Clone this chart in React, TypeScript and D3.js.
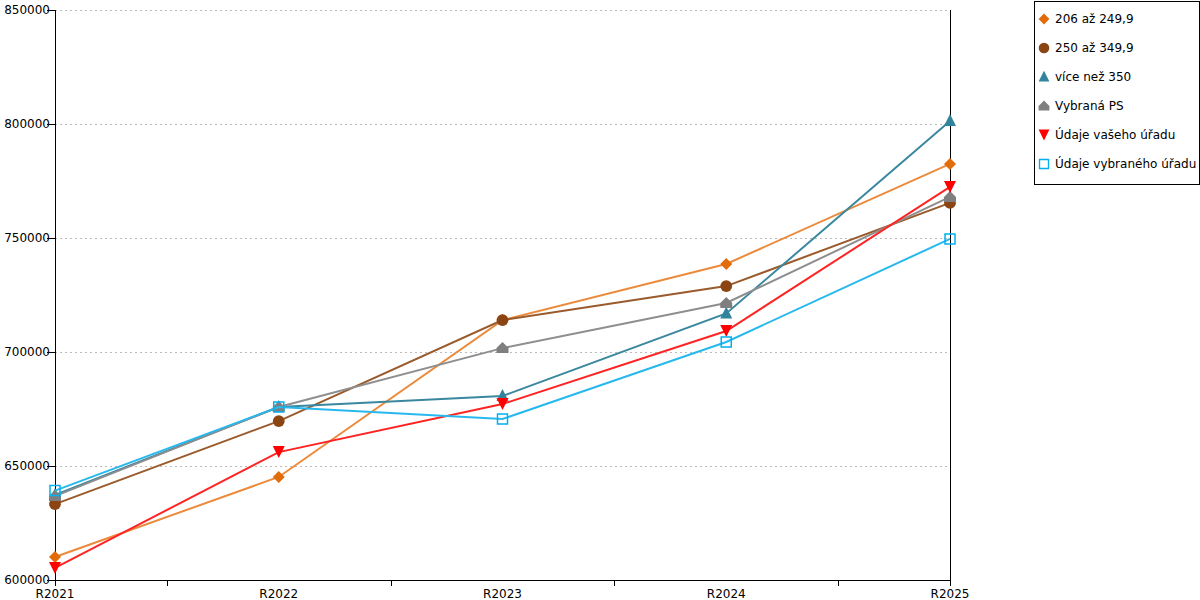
import { useEffect } from "react";
import * as d3 from "d3";

const categories = ["R2021", "R2022", "R2023", "R2024", "R2025"];
const yTicks = [600000, 650000, 700000, 750000, 800000, 850000];

const seriesNames = ["206 až 249,9", "250 až 349,9", "více než 350", "Vybraná PS", "Údaje vašeho úřadu", "Údaje vybraného úřadu"];
const s206 = [610100, 645200, 714000, 738600, 782500];
const s250 = [633300, 669700, 714000, 728900, 765400];
const s350 = [637300, 675900, 680700, 716900, 801300];
const selectedPS = [636800, 675900, 701700, 721500, 768000];
const yourOffice = [605300, 656100, 677200, 709200, 772400];
const selectedOffice = [639200, 675900, 670600, 704400, 749600];

const seriesValues = [s206, s250, s350, selectedPS, yourOffice, selectedOffice];
const lineColors = ["#ec8a3c", "#9a5a2c", "#3a88a0", "#8e8e8e", "#ff2424", "#27b8ee"];
const markerColors = ["#e36c0a", "#8b4513", "#31849b", "#7f7f7f", "#ff0000", "#00b0f0"];
const markerKinds = ["diamond", "circle", "triangle", "house", "down", "square"];

function markerPath(kind: string): string {
    switch (kind) {
        case "diamond":
            return "M0,-6L6,0L0,6L-6,0Z";
        case "circle":
            return d3.symbol(d3.symbolCircle, 110)() ?? "";
        case "triangle":
            return "M0,-7L6,5L-6,5Z";
        case "house":
            return "M0,-6L6,0L6,5L-6,5L-6,0Z";
        case "down":
            return "M-6,-6L6,-6L0,6Z";
        default:
            return "M-5,-5L5,-5L5,5L-5,5Z";
    }
}

function Chart() {
    const width = 1200;
    const height = 600;
    const left = 55;
    const right = 950;
    const top = 10;
    const bottom = 580;

    const x = d3.scalePoint<string>().domain(categories).range([left, right]);
    const y = d3.scaleLinear().domain([600000, 850000]).range([bottom, top]);
    const line = d3
        .line<number>()
        .x((_, i) => x(categories[i]) ?? 0)
        .y((v) => y(v));

    const step = x.step();
    const boundaryTicks = categories.slice(0, -1).map((c) => Math.round((x(c) ?? 0) + step / 2) + 0.5);

    useEffect(() => {
        document.body.style.margin = "0";
    }, []);

    const font = "DejaVu Sans, sans-serif";
    const px = (v: number) => Math.round(v) + 0.5;

    return (
        <svg width={width} height={height} style={{ display: "block", fontFamily: font }}>
            <rect width={width} height={height} fill="#fff" />
            <g shapeRendering="crispEdges">
                {yTicks.slice(1).map((t) => (
                    <line key={t} x1={left} x2={right} y1={px(y(t))} y2={px(y(t))} stroke="#bbb" strokeDasharray="2,3" />
                ))}
                {yTicks.map((t) => (
                    <line key={"yt" + t} x1={left - 8} x2={left} y1={px(y(t))} y2={px(y(t))} stroke="#000" />
                ))}
                <line x1={px(left)} x2={px(left)} y1={top} y2={bottom + 6} stroke="#000" />
                <line x1={px(right)} x2={px(right)} y1={top} y2={bottom + 6} stroke="#000" />
                <line x1={left} x2={right} y1={px(bottom)} y2={px(bottom)} stroke="#000" />
                {boundaryTicks.map((bx) => (
                    <line key={bx} x1={bx} x2={bx} y1={bottom} y2={bottom + 6} stroke="#000" />
                ))}
            </g>
            {yTicks.map((t) => (
                <text key={"yl" + t} x={left - 5} y={y(t) + 4} textAnchor="end" fontSize={12} fill="#000">
                    {t}
                </text>
            ))}
            {categories.map((c) => (
                <text key={c} x={x(c)} y={bottom + 18} textAnchor="middle" fontSize={12} fill="#000">
                    {c}
                </text>
            ))}
            {seriesValues.map((vals, si) => (
                <g key={"s" + si}>
                    <path d={line(vals) ?? ""} fill="none" stroke={lineColors[si]} strokeWidth={2} />
                    {vals.map((v, i) => (
                        <path
                            key={i}
                            d={markerPath(markerKinds[si])}
                            transform={`translate(${x(categories[i])},${y(v)})`}
                            fill={markerKinds[si] === "square" ? "none" : markerColors[si]}
                            stroke={markerKinds[si] === "square" ? markerColors[si] : "none"}
                            strokeWidth={1.5}
                        />
                    ))}
                </g>
            ))}
            <rect x={1034.5} y={1.5} width={165} height={183} fill="#fff" stroke="#000" shapeRendering="crispEdges" />
            {seriesNames.map((name, si) => {
                const ly = 19 + si * 29;
                return (
                    <g key={name}>
                        <path
                            d={markerPath(markerKinds[si])}
                            transform={`translate(1044,${ly}) scale(0.9)`}
                            fill={markerKinds[si] === "square" ? "none" : markerColors[si]}
                            stroke={markerKinds[si] === "square" ? markerColors[si] : "none"}
                            strokeWidth={1.5}
                        />
                        <text x={1055} y={ly + 4} fontSize={12} fill="#000">
                            {name}
                        </text>
                    </g>
                );
            })}
        </svg>
    );
}

export default function App() {
    return <Chart />;
}
